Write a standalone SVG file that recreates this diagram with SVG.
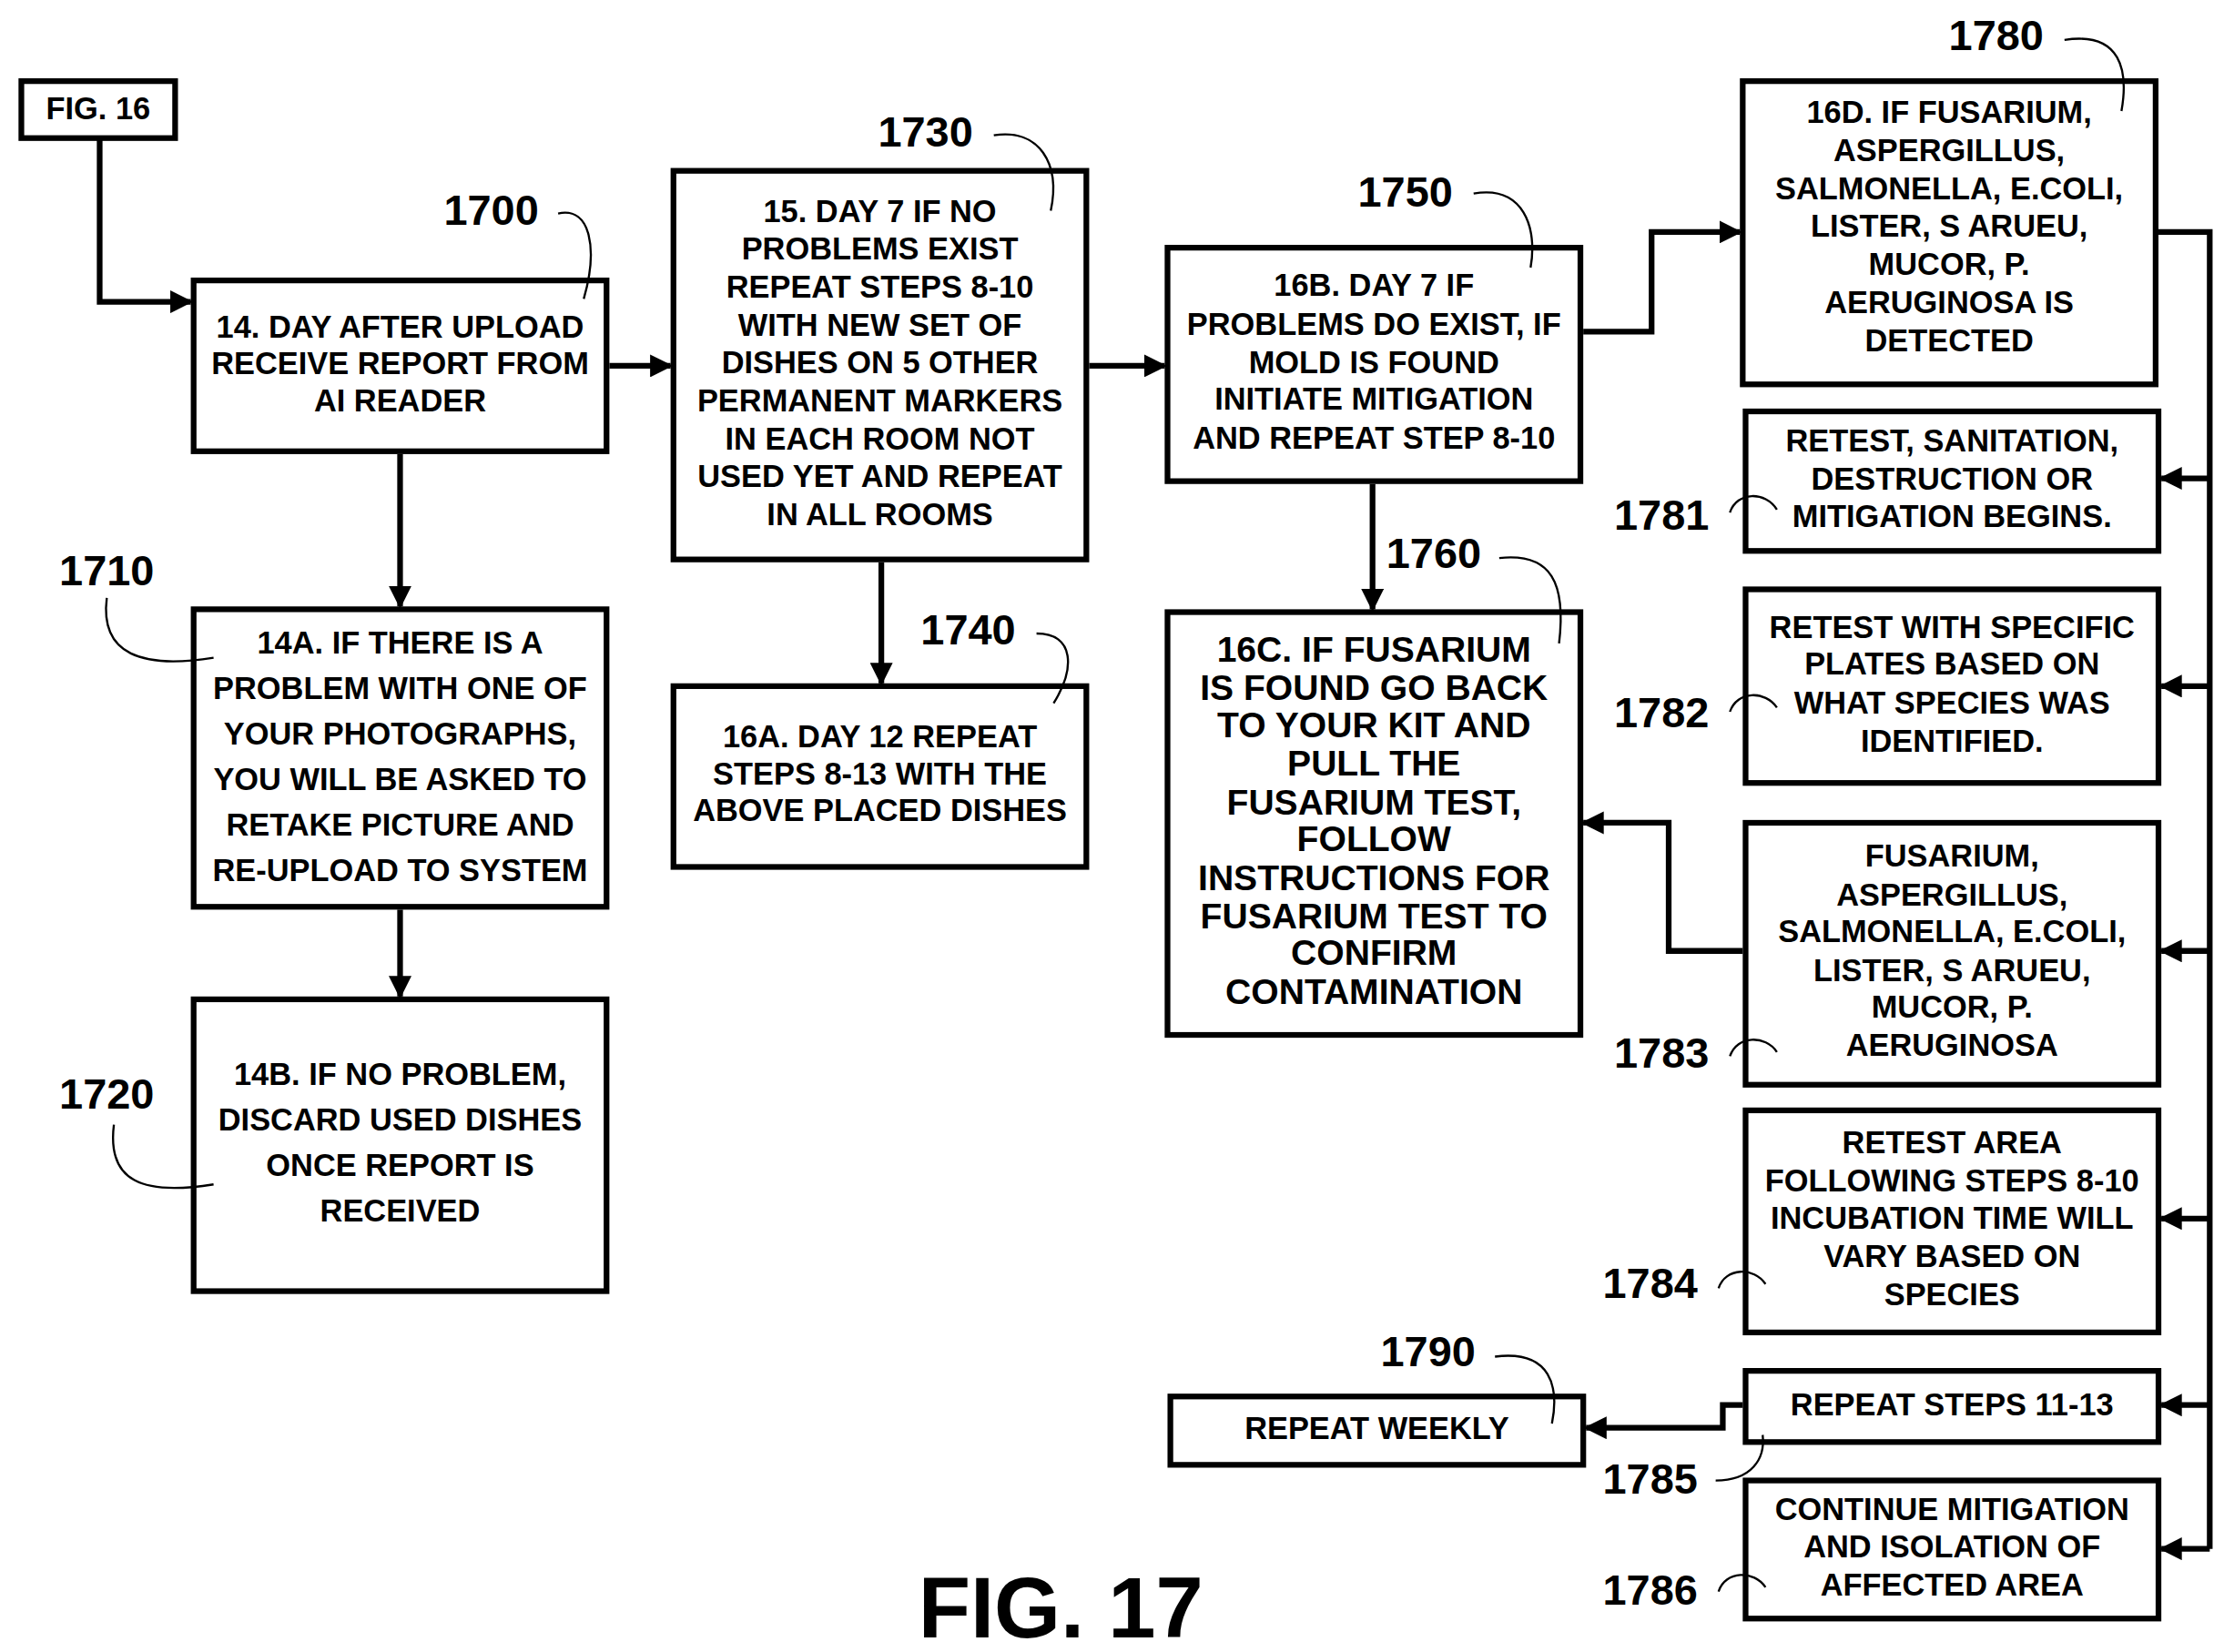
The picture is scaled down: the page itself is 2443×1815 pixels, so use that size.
<svg xmlns="http://www.w3.org/2000/svg" width="2443" height="1815" viewBox="0 0 2443 1815">
<defs>
<marker id="ah" viewBox="0 0 10 10" refX="9" refY="5" markerWidth="16" markerHeight="16" orient="auto" markerUnits="userSpaceOnUse"><path d="M0,0L10,5L0,10z" fill="#000"/></marker>
<style>
.b{fill:#fff;stroke:#000;stroke-width:4}
.t{font-family:"Liberation Sans",Arial,sans-serif;font-weight:bold;font-size:22px;text-anchor:middle}
.w{font-family:"Liberation Sans",Arial,sans-serif;font-weight:bold;font-size:25px;text-anchor:middle}
.l{font-family:"Liberation Sans",Arial,sans-serif;font-weight:bold;font-size:30px;text-anchor:middle}
.c{fill:none;stroke:#000;stroke-width:4}
.ld{fill:none;stroke:#000;stroke-width:1.5}
</style>
</defs>
<rect width="2443" height="1815" fill="#fff"/>
<g transform="scale(1.564)">
<g id="nodes">
<g id="fig16"><rect class="b" x="15" y="57" width="108" height="40"/><text class="t" x="69" y="84">FIG. 16</text></g>
<g id="n1700"><rect class="b" x="136" y="197" width="290" height="120"/><text class="t" x="281" y="237">14. DAY AFTER UPLOAD</text><text class="t" x="281" y="263">RECEIVE REPORT FROM</text><text class="t" x="281" y="289">AI READER</text><text class="l" x="345" y="158">1700</text></g>
<g id="n1710"><rect class="b" x="136" y="428" width="290" height="209"/><text class="t" x="281" y="459">14A. IF THERE IS A</text><text class="t" x="281" y="491">PROBLEM WITH ONE OF</text><text class="t" x="281" y="523">YOUR PHOTOGRAPHS,</text><text class="t" x="281" y="555">YOU WILL BE ASKED TO</text><text class="t" x="281" y="587">RETAKE PICTURE AND</text><text class="t" x="281" y="619">RE-UPLOAD TO SYSTEM</text><text class="l" x="75" y="411">1710</text></g>
<g id="n1720"><rect class="b" x="136" y="702" width="290" height="205"/><text class="t" x="281" y="762">14B.  IF NO PROBLEM,</text><text class="t" x="281" y="794">DISCARD USED DISHES</text><text class="t" x="281" y="826">ONCE REPORT IS</text><text class="t" x="281" y="858">RECEIVED</text><text class="l" x="75" y="779">1720</text></g>
<g id="n1730"><rect class="b" x="473" y="120" width="290" height="273"/><text class="t" x="618" y="156">15. DAY 7 IF NO</text><text class="t" x="618" y="182">PROBLEMS EXIST</text><text class="t" x="618" y="209">REPEAT STEPS 8-10</text><text class="t" x="618" y="236">WITH NEW SET OF</text><text class="t" x="618" y="262">DISHES ON 5 OTHER</text><text class="t" x="618" y="289">PERMANENT MARKERS</text><text class="t" x="618" y="316">IN EACH ROOM NOT</text><text class="t" x="618" y="342">USED YET AND REPEAT</text><text class="t" x="618" y="369">IN ALL ROOMS</text><text class="l" x="650" y="103">1730</text></g>
<g id="n1740"><rect class="b" x="473" y="482" width="290" height="127"/><text class="t" x="618" y="525">16A. DAY 12 REPEAT</text><text class="t" x="618" y="551">STEPS 8-13 WITH THE</text><text class="t" x="618" y="577">ABOVE PLACED DISHES</text><text class="l" x="680" y="453">1740</text></g>
<g id="n1750"><rect class="b" x="820" y="174" width="290" height="164"/><text class="t" x="965" y="208">16B. DAY 7 IF</text><text class="t" x="965" y="235">PROBLEMS DO EXIST, IF</text><text class="t" x="965" y="262">MOLD IS FOUND</text><text class="t" x="965" y="288">INITIATE MITIGATION</text><text class="t" x="965" y="315">AND REPEAT STEP 8-10</text><text class="l" x="987" y="145">1750</text></g>
<g id="n1760"><rect class="b" x="820" y="430" width="290" height="297"/>
<text class="w" x="965" y="465">16C. IF FUSARIUM</text><text class="w" x="965" y="492">IS FOUND GO BACK</text><text class="w" x="965" y="518">TO YOUR KIT AND</text><text class="w" x="965" y="545">PULL THE</text><text class="w" x="965" y="572">FUSARIUM TEST,</text><text class="w" x="965" y="598">FOLLOW</text><text class="w" x="965" y="625">INSTRUCTIONS FOR</text><text class="w" x="965" y="652">FUSARIUM TEST TO</text><text class="w" x="965" y="678">CONFIRM</text><text class="w" x="965" y="705">CONTAMINATION</text><text class="l" x="1007" y="399">1760</text></g>
<g id="n1790"><rect class="b" x="822" y="981" width="290" height="48"/><text class="t" x="967" y="1011">REPEAT WEEKLY</text><text class="l" x="1003" y="960">1790</text></g>
<g id="n1780"><rect class="b" x="1224" y="57" width="290" height="213"/><text class="t" x="1369" y="86">16D. IF FUSARIUM,</text><text class="t" x="1369" y="113">ASPERGILLUS,</text><text class="t" x="1369" y="140">SALMONELLA, E.COLI,</text><text class="t" x="1369" y="166">LISTER, S ARUEU,</text><text class="t" x="1369" y="193">MUCOR, P.</text><text class="t" x="1369" y="220">AERUGINOSA IS</text><text class="t" x="1369" y="247">DETECTED</text><text class="l" x="1402" y="35">1780</text></g>
<g id="n1781"><rect class="b" x="1226" y="289" width="290" height="98"/><text class="t" x="1371" y="317">RETEST, SANITATION,</text><text class="t" x="1371" y="344">DESTRUCTION OR</text><text class="t" x="1371" y="370">MITIGATION BEGINS.</text><text class="l" x="1167" y="372">1781</text></g>
<g id="n1782"><rect class="b" x="1226" y="414" width="290" height="136"/><text class="t" x="1371" y="448">RETEST WITH SPECIFIC</text><text class="t" x="1371" y="474">PLATES BASED ON</text><text class="t" x="1371" y="501">WHAT SPECIES WAS</text><text class="t" x="1371" y="528">IDENTIFIED.</text><text class="l" x="1167" y="511">1782</text></g>
<g id="n1783"><rect class="b" x="1226" y="578" width="290" height="184"/><text class="t" x="1371" y="609">FUSARIUM,</text><text class="t" x="1371" y="636">ASPERGILLUS,</text><text class="t" x="1371" y="662">SALMONELLA, E.COLI,</text><text class="t" x="1371" y="689">LISTER, S ARUEU,</text><text class="t" x="1371" y="715">MUCOR, P.</text><text class="t" x="1371" y="742">AERUGINOSA</text><text class="l" x="1167" y="750">1783</text></g>
<g id="n1784"><rect class="b" x="1226" y="780" width="290" height="156"/><text class="t" x="1371" y="810">RETEST AREA</text><text class="t" x="1371" y="837">FOLLOWING STEPS 8-10</text><text class="t" x="1371" y="863">INCUBATION TIME WILL</text><text class="t" x="1371" y="890">VARY BASED ON</text><text class="t" x="1371" y="917">SPECIES</text><text class="l" x="1159" y="912">1784</text></g>
<g id="n1785"><rect class="b" x="1226" y="963" width="290" height="50"/><text class="t" x="1371" y="994">REPEAT STEPS 11-13</text><text class="l" x="1159" y="1049">1785</text></g>
<g id="n1786"><rect class="b" x="1226" y="1040" width="290" height="97"/><text class="t" x="1371" y="1068">CONTINUE MITIGATION</text><text class="t" x="1371" y="1094">AND ISOLATION OF</text><text class="t" x="1371" y="1121">AFFECTED AREA</text><text class="l" x="1159" y="1127">1786</text></g>
</g>
<g id="connectors">
<path class="c" marker-end="url(#ah)" d="M70,97V212H134"/>
<path class="c" marker-end="url(#ah)" d="M428,257H471"/>
<path class="c" marker-end="url(#ah)" d="M765,257H818"/>
<path class="c" marker-end="url(#ah)" d="M281,319V426"/>
<path class="c" marker-end="url(#ah)" d="M281,639V700"/>
<path class="c" marker-end="url(#ah)" d="M619,395V480"/>
<path class="c" marker-end="url(#ah)" d="M964,340V428"/>
<path class="c" marker-end="url(#ah)" d="M1112,233H1160V163H1222"/>
<path class="c" d="M1516,163H1552V1088"/>
<path class="c" marker-end="url(#ah)" d="M1552,336H1518"/>
<path class="c" marker-end="url(#ah)" d="M1552,482H1518"/>
<path class="c" marker-end="url(#ah)" d="M1552,668H1518"/>
<path class="c" marker-end="url(#ah)" d="M1552,856H1518"/>
<path class="c" marker-end="url(#ah)" d="M1552,987H1518"/>
<path class="c" marker-end="url(#ah)" d="M1552,1088H1518"/>
<path class="c" marker-end="url(#ah)" d="M1224,668H1172V578H1112"/>
<path class="c" marker-end="url(#ah)" d="M1224,987H1210V1003H1114"/>
</g>
<g id="leaders">
<path class="ld" d="M392,150C415,145 420,175 410,210"/>
<path class="ld" d="M698,95C730,90 745,115 738,148"/>
<path class="ld" d="M1035,136C1070,130 1080,160 1075,188"/>
<path class="ld" d="M1450,28C1490,22 1495,50 1490,78"/>
<path class="ld" d="M1053,392C1090,388 1100,410 1095,452"/>
<path class="ld" d="M728,445C755,445 755,470 740,494"/>
<path class="ld" d="M1050,953C1090,948 1095,975 1090,1000"/>
<path class="ld" d="M75,420C70,460 100,470 150,462"/>
<path class="ld" d="M80,790C75,830 100,840 150,832"/>
<path class="ld" d="M1215,360C1220,345 1240,345 1248,358"/>
<path class="ld" d="M1215,500C1220,485 1240,485 1248,497"/>
<path class="ld" d="M1215,742C1220,727 1240,727 1248,739"/>
<path class="ld" d="M1207,905C1212,890 1232,890 1240,902"/>
<path class="ld" d="M1205,1040C1230,1040 1240,1025 1238,1008"/>
<path class="ld" d="M1207,1118C1212,1103 1232,1103 1240,1115"/>
</g>
<text x="745" y="1150" font-family="Liberation Sans,Arial,sans-serif" font-weight="bold" font-size="60" text-anchor="middle">FIG. 17</text>
</g>
</svg>
